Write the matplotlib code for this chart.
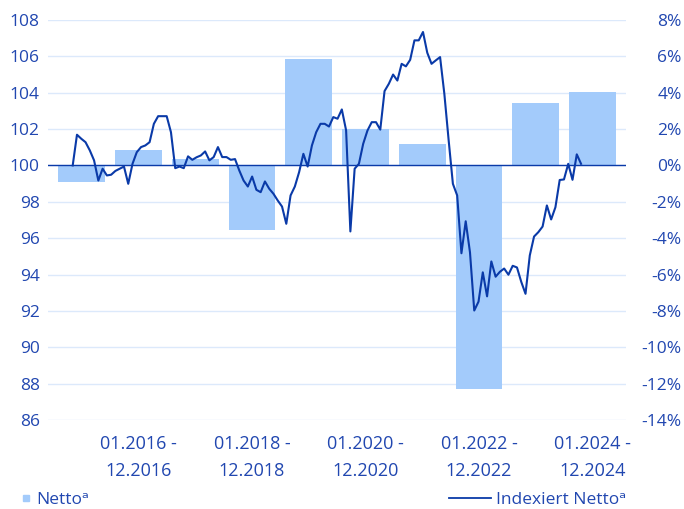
import numpy as np
import matplotlib
matplotlib.use("Agg")
from matplotlib import pyplot as plt
from matplotlib.lines import Line2D

# Jahreswerte Netto (in %)
years = [2015, 2016, 2017, 2018, 2019, 2020, 2021, 2022, 2023, 2024]
netto = [-0.92, 0.83, 0.33, -3.54, 5.83, 2.02, 1.16, -12.3, 3.45, 4.05]

# Indexiert Netto, monatlich (120 Werte)
index_netto = [
    100.0, 101.69, 101.47, 101.28, 100.83, 100.28, 99.17, 99.82, 99.45, 99.49,
    99.7, 99.82, 99.94, 98.99, 100.09, 100.73, 101.01, 101.10, 101.28, 102.29,
    102.71, 102.71, 102.71, 101.83, 99.85, 99.94, 99.85, 100.5, 100.31, 100.45,
    100.55, 100.77, 100.28, 100.46, 101.01, 100.46, 100.46, 100.31, 100.35, 99.72,
    99.17, 98.84, 99.39, 98.66, 98.53, 99.12, 98.72, 98.44, 98.07, 97.74,
    96.79, 98.35, 98.84, 99.63, 100.64, 99.94, 101.10, 101.83, 102.29, 102.29,
    102.14, 102.66, 102.57, 103.08, 101.93, 96.37, 99.82, 100.09, 101.19, 101.92,
    102.38, 102.38, 101.97, 104.09, 104.49, 105.0, 104.67, 105.59, 105.45, 105.81,
    106.88, 106.88, 107.34, 106.2, 105.59, 105.78, 105.96, 103.94, 101.4, 98.99,
    98.35, 95.17, 96.93, 95.22, 92.02, 92.51, 94.12, 92.8, 94.72, 93.88,
    94.15, 94.33, 93.99, 94.48, 94.39, 93.6, 92.94, 95.05, 96.09, 96.33,
    96.64, 97.8, 97.03, 97.7, 99.2, 99.23, 100.09, 99.21, 100.61, 100.09,
]

tick_years = [2016, 2018, 2020, 2022, 2024]
tick_labels = ["01.%d -\n12.%d" % (y, y) for y in tick_years]

text_col = "#2147b0"
bar_col = "#a3cbfb"
line_col = "#0a3aa8"
grid_col = "#dce9fb"

plt.rcParams["font.family"] = ["Open Sans", "DejaVu Sans"]

fig = plt.figure(figsize=(6.84, 5.09), dpi=100)
ax = fig.add_axes([0.0702, 0.1749, 0.845, 0.7858])
ax2 = ax.twinx()

# Balken auf rechter Achse (%)
ax2.bar(years, netto, width=0.82, color=bar_col, zorder=2)
ax2.set_ylim(-14, 8)
ax2.set_yticks(np.arange(-14, 9, 2))
ax2.set_yticklabels(["%d%%" % v for v in range(-14, 9, 2)])

# Linie auf linker Achse; monatlich, gleichmaessig verteilt
x_line = np.linspace(2014.841, 2023.798, len(index_netto))
ax.set_zorder(ax2.get_zorder() + 1)
ax.patch.set_visible(False)
ax.plot(x_line, index_netto, color=line_col, lw=1.5, zorder=3)
ax.axhline(100, color=line_col, lw=1.0, zorder=2.5)
ax.set_ylim(86, 108)
ax.set_yticks(np.arange(86, 109, 2))
ax.set_xlim(2015 - 0.594, 2024 + 0.59)
ax.set_xticks(tick_years)
ax.set_xticklabels(tick_labels, linespacing=1.65)

# Gitter
for v in np.arange(86, 109, 2):
    ax2.axhline(v - 100, color=grid_col, lw=1.0, zorder=1)

for a in (ax, ax2):
    for s in a.spines.values():
        s.set_visible(False)
    a.tick_params(length=0, colors=text_col, labelsize=12.5)

ax.tick_params(axis="y", pad=6)
ax.tick_params(axis="x", pad=11, labelsize=13)
for lab in ax2.get_yticklabels():
    lab.set_horizontalalignment("right")
ax2.tick_params(axis="y", pad=40)

# Legenden
h_bar = Line2D([], [], marker="s", color=bar_col, linestyle="none", markersize=5)
h_line = Line2D([], [], color=line_col, lw=1.3)
leg1 = fig.legend([h_bar], ["Netto\u1d43"], loc="lower left", bbox_to_anchor=(0.008, -0.028),
                  frameon=False, fontsize=12.5, handlelength=0.6, handletextpad=0.3)
leg2 = fig.legend([h_line], ["Indexiert Netto\u1d43"], loc="lower right", bbox_to_anchor=(0.938, -0.028),
                  frameon=False, fontsize=12.5, handlelength=2.4, handletextpad=0.3)
for lg in (leg1, leg2):
    for t in lg.get_texts():
        t.set_color(text_col)

fig.savefig("out.png", dpi=100)
